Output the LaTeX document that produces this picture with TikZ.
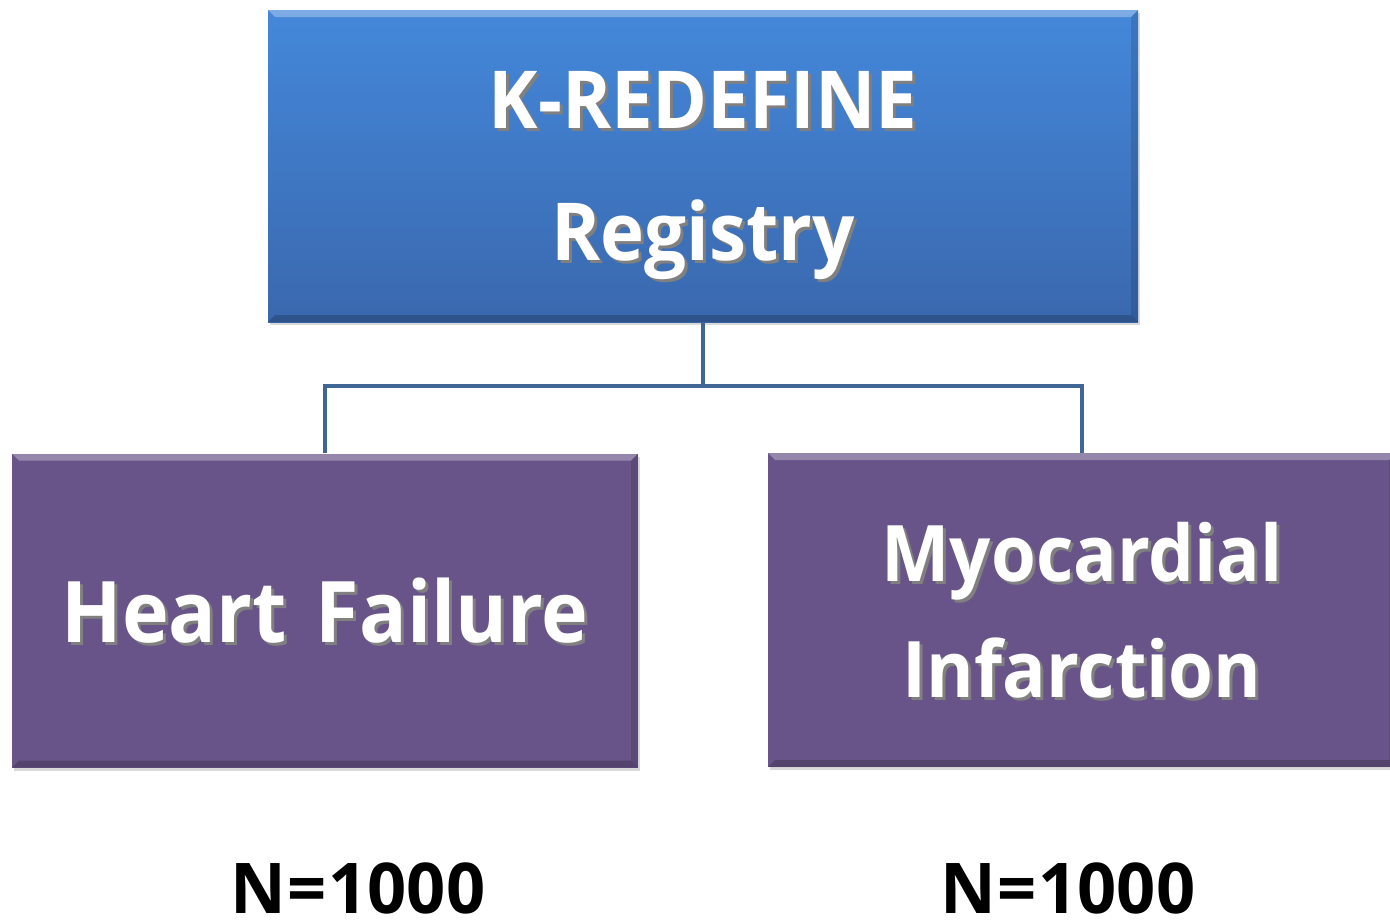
\documentclass[tikz,border=0pt]{standalone}
\usepackage{fontspec}
\usetikzlibrary{shadows}
\newfontfamily\boxfont[FakeStretch=0.93]{Open Sans Bold}
\newfontfamily\countfont[FakeStretch=0.98]{Open Sans Bold}
\definecolor{regtop}{RGB}{68,136,218}
\definecolor{regbot}{RGB}{58,104,174}
\definecolor{grpfill}{RGB}{104,84,137}
\definecolor{linkcol}{RGB}{64,102,150}
% white text with a soft dark copy behind it
\newcommand{\shtext}[1]{\makebox[0pt][l]{\kern3pt\raisebox{-3pt}{\color{black!50}#1}}#1}

\begin{document}
\begin{tikzpicture}[x=1pt, y=-1pt,
	box/.style={rectangle, inner sep=0pt, text=white, align=center, text depth=0pt,
		drop shadow={shadow xshift=2pt, shadow yshift=-3pt, opacity=0.3},
		path picture={
			\fill[white, opacity=0.3] (path picture bounding box.north west) -- (path picture bounding box.north east)
				-- ([shift={(-7pt,-7pt)}]path picture bounding box.north east) -- ([shift={(7pt,-7pt)}]path picture bounding box.north west) -- cycle;
			\fill[black, opacity=0.2] (path picture bounding box.south west) -- (path picture bounding box.south east)
				-- ([shift={(-7pt,7pt)}]path picture bounding box.south east) -- ([shift={(7pt,7pt)}]path picture bounding box.south west) -- cycle;
			\fill[black, opacity=0.12] (path picture bounding box.south east) -- (path picture bounding box.north east)
				-- ([shift={(-7pt,-7pt)}]path picture bounding box.north east) -- ([shift={(-7pt,7pt)}]path picture bounding box.south east) -- cycle;
		}},
	regbox/.style={box, top color=regtop, bottom color=regbot, minimum width=870pt, minimum height=312pt,
		font=\boxfont\fontsize{80}{132}\selectfont},
	grpbox/.style={box, fill=grpfill, minimum width=626pt, minimum height=314pt},
	link/.style={draw=linkcol, line width=4pt},
	count/.style={font=\countfont\fontsize{70}{70}\selectfont, anchor=base}]
	\useasboundingbox (0,0) rectangle (1390,921);
	\node[regbox] (reg) at (703,166) {\shtext{K-REDEFINE}\\\shtext{Registry}};
	\node[grpbox, font=\boxfont\fontsize{85}{85}\selectfont] (hf) at (325,610.5) {\shtext{Heart\hspace{0.1em} Failure}};
	\node[grpbox, minimum width=628pt, font=\boxfont\fontsize{78}{116}\selectfont] (mi) at (1082,610) {\shtext{Myocardial}\\\shtext{Infarction}};
	\coordinate (bus) at (703,386);
	\draw[link] (reg.south) -- (bus);
	\draw[link] (hf.north) |- (bus) -| (mi.north);
	\node[count] (nhf) at (358,913) {N{\kern0.02em}={\kern0.02em}1000};
	\node[count] (nmi) at (1068,913) {N{\kern0.02em}={\kern0.02em}1000};
\end{tikzpicture}
\end{document}
